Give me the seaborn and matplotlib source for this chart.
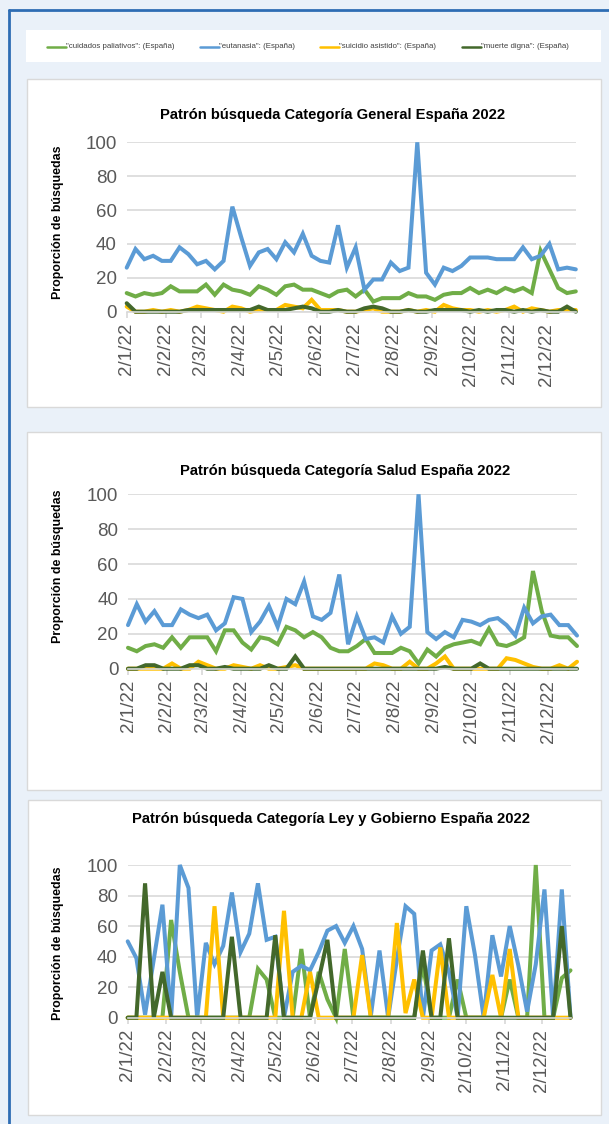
"""Patrón de búsqueda (Google Trends) España 2022 - tres categorías."""

import matplotlib
matplotlib.use("Agg")
import matplotlib.pyplot as plt
from matplotlib.patches import Rectangle
from matplotlib.lines import Line2D
import numpy as np
import pandas as pd
import seaborn as sns

# --- datos -------------------------------------------------------------
fechas = pd.date_range("2022-01-02", periods=52, freq="7D")

series = ['"cuidados paliativos": (España)', '"eutanasia": (España)',
          '"suicidio asistido": (España)', '"muerte digna": (España)']
colores = ["#70ad47", "#5b9bd5", "#ffc000", "#43682b"]

tick_fechas = pd.to_datetime(["2022-01-02", "2022-02-02", "2022-03-02", "2022-04-02",
                              "2022-05-02", "2022-06-02", "2022-07-02", "2022-08-02",
                              "2022-09-02", "2022-10-02", "2022-11-02", "2022-12-02"])
tick_labels = ["2/1/22", "2/2/22", "2/3/22", "2/4/22", "2/5/22", "2/6/22",
               "2/7/22", "2/8/22", "2/9/22", "2/10/22", "2/11/22", "2/12/22"]

# Categoría General
gen_cuidados = [11, 9, 11, 10, 11, 15, 12, 12, 12, 16, 10, 16, 13, 12, 10, 15, 13, 10, 15, 16,
                13, 13, 11, 9, 12, 13, 9, 13, 6, 8, 8, 8, 11, 9, 9, 7, 10, 11, 11, 14,
                11, 13, 11, 14, 12, 14, 11, 36, 25, 14, 11, 12]
gen_eutanasia = [26, 37, 31, 33, 30, 30, 38, 34, 28, 30, 25, 30, 62, 44, 27, 35, 37, 31, 41, 35,
                 46, 33, 30, 29, 51, 26, 38, 13, 19, 19, 29, 24, 26, 100, 23, 16, 26, 24, 27, 32,
                 32, 32, 31, 31, 31, 38, 31, 33, 40, 25, 26, 25]
gen_suicidio = [3, 0, 0, 1, 0, 1, 0, 1, 3, 2, 1, 0, 3, 2, 0, 1, 1, 1, 4, 3,
                2, 7, 1, 1, 1, 0, 0, 1, 2, 0, 0, 0, 1, 0, 1, 0, 4, 2, 1, 1,
                0, 1, 0, 1, 3, 0, 2, 1, 0, 1, 1, 1]
gen_muerte = [5, 0, 0, 0, 0, 0, 0, 1, 1, 1, 1, 1, 1, 1, 1, 3, 1, 1, 1, 2,
              3, 2, 0, 0, 1, 0, 0, 2, 3, 2, 0, 0, 1, 0, 0, 1, 1, 1, 1, 0,
              1, 0, 1, 1, 0, 1, 0, 1, 0, 0, 3, 0]

# Categoría Salud
sal_cuidados = [12, 10, 13, 14, 12, 18, 12, 18, 18, 18, 10, 22, 22, 15, 11, 18, 17, 14, 24, 22,
                18, 21, 18, 12, 10, 10, 13, 17, 9, 9, 9, 12, 10, 3, 11, 7, 12, 14, 15, 16,
                14, 23, 14, 13, 15, 18, 56, 33, 19, 18, 18, 13]
sal_eutanasia = [25, 37, 27, 33, 25, 25, 34, 31, 29, 31, 22, 26, 41, 40, 21, 27, 36, 24, 40, 37,
                 50, 30, 28, 32, 54, 14, 30, 17, 18, 15, 30, 20, 24, 100, 21, 17, 21, 18, 28, 27,
                 25, 28, 29, 25, 19, 35, 26, 30, 31, 25, 25, 19]
sal_suicidio = [0, 0, 0, 0, 0, 3, 0, 0, 4, 2, 0, 0, 2, 1, 0, 2, 0, 0, 1, 2,
                0, 0, 0, 0, 0, 0, 0, 0, 3, 2, 0, 0, 4, 0, 0, 3, 7, 0, 0, 0,
                0, 0, 0, 6, 5, 3, 1, 0, 0, 2, 0, 4]
sal_muerte = [0, 0, 2, 2, 0, 0, 0, 2, 2, 0, 0, 1, 0, 0, 0, 0, 2, 0, 0, 7,
              0, 0, 0, 0, 0, 0, 0, 0, 0, 0, 0, 0, 0, 0, 0, 0, 1, 0, 0, 0,
              3, 0, 0, 0, 0, 0, 0, 0, 0, 0, 0, 0]

# Categoría Ley y Gobierno
ley_cuidados = [0, 0, 0, 0, 0, 64, 30, 0, 0, 0, 0, 0, 0, 0, 0, 32, 25, 0, 0, 0,
                45, 0, 30, 12, 0, 45, 0, 0, 0, 0, 0, 0, 0, 0, 35, 0, 0, 0, 25, 0,
                0, 0, 0, 0, 25, 0, 0, 100, 0, 0, 26, 31]
ley_eutanasia = [50, 39, 2, 38, 74, 0, 100, 85, 0, 49, 35, 47, 82, 43, 55, 88, 51, 53, 0, 30,
                 34, 31, 43, 57, 60, 49, 60, 45, 1, 44, 0, 38, 73, 68, 0, 44, 48, 30, 0, 73,
                 41, 0, 54, 27, 60, 34, 4, 35, 84, 0, 84, 0]
ley_suicidio = [0, 0, 0, 0, 0, 0, 0, 0, 0, 0, 73, 0, 0, 0, 0, 0, 0, 0, 70, 0,
                0, 30, 0, 0, 0, 0, 0, 41, 0, 0, 0, 62, 3, 25, 0, 0, 46, 0, 0, 0,
                0, 0, 28, 0, 45, 0, 0, 0, 0, 0, 0, 0]
ley_muerte = [0, 0, 88, 0, 30, 0, 0, 0, 0, 0, 0, 0, 53, 0, 0, 0, 0, 54, 0, 0,
              0, 0, 25, 51, 0, 0, 0, 0, 0, 0, 0, 0, 0, 0, 44, 0, 0, 52, 0, 0,
              0, 0, 0, 0, 0, 0, 0, 0, 0, 0, 60, 0]

titulos = ["Patrón búsqueda Categoría General España 2022",
           "Patrón búsqueda Categoría Salud España 2022",
           "Patrón búsqueda Categoría Ley y Gobierno España 2022"]
ylabel = "Proporción de búsquedas"

# --- estilo ------------------------------------------------------------
sns.set_theme(style="white")
plt.rcParams["font.family"] = ["Liberation Sans", "DejaVu Sans"]

W, H = 609, 1124
FONDO = "#eaf1f9"
BORDE_AZUL = "#2e6db4"
GRIS_TXT = "#595959"
GRIS_GRID = "#d9d9d9"

fig = plt.figure(figsize=(W / 100, H / 100), dpi=100, facecolor=FONDO)


def fx(x):
    return x / W


def fy(y):
    return 1 - y / H


def caja(x0, y0, x1, y1, edge=None):
    fig.patches.append(Rectangle((fx(x0), fy(y1)), fx(x1) - fx(x0), fy(y0) - fy(y1),
                                 transform=fig.transFigure, facecolor="white",
                                 edgecolor=edge if edge else "none", lw=1, zorder=-5))


# marco azul izquierdo y superior
fig.lines.append(Line2D([fx(9), fx(9)], [fy(10), 0], transform=fig.transFigure,
                        color=BORDE_AZUL, lw=2))
fig.lines.append(Line2D([fx(9), 1], [fy(10), fy(10)], transform=fig.transFigure,
                        color=BORDE_AZUL, lw=2))

# leyenda
caja(26, 30, 601, 62)
ley_x = [47, 200, 320, 462]
for x0, nombre, c in zip(ley_x, series, colores):
    fig.lines.append(Line2D([fx(x0), fx(x0 + 19)], [fy(47), fy(47)],
                            transform=fig.transFigure, color=c, lw=1.8))
    fig.text(fx(x0 + 19), fy(47), nombre, fontsize=5.7, color="#404040",
             va="center", ha="left")

# paneles: caja, ejes, título (x, y) y centro del rótulo del eje y
paneles = [
    dict(box=(27, 79, 601, 407), ax=(126.7, 142.3, 575.8, 311.7), tx=333, ty=115, ly=222,
         datos=(gen_cuidados, gen_eutanasia, gen_suicidio, gen_muerte)),
    dict(box=(27, 432, 601, 790), ax=(128.0, 494.3, 577.0, 668.7), tx=345, ty=471, ly=566,
         datos=(sal_cuidados, sal_eutanasia, sal_suicidio, sal_muerte)),
    dict(box=(28, 800, 601, 1115), ax=(127.7, 865.0, 570.5, 1017.7), tx=331, ty=819, ly=943,
         datos=(ley_cuidados, ley_eutanasia, ley_suicidio, ley_muerte)),
]

for p, titulo in zip(paneles, titulos):
    caja(*p["box"], edge=GRIS_GRID)
    x0, y0, x1, y1 = p["ax"]
    ax = fig.add_axes([fx(x0), fy(y1), fx(x1) - fx(x0), fy(y0) - fy(y1)])
    ax.patch.set_alpha(0)

    df = pd.DataFrame({"fecha": np.tile(fechas, 4),
                       "valor": np.concatenate(p["datos"]),
                       "serie": np.repeat(series, len(fechas))})
    sns.lineplot(data=df, x="fecha", y="valor", hue="serie", hue_order=series,
                 palette=colores, linewidth=2.9, legend=False, ax=ax,
                 solid_joinstyle="miter", clip_on=False)

    ax.set_xlim(fechas[0], fechas[-1])
    ax.set_ylim(0, 100)
    ax.set_yticks([0, 20, 40, 60, 80, 100])
    ax.yaxis.grid(True, color=GRIS_GRID, lw=1.2)
    ax.set_axisbelow(True)
    ax.set_xticks(tick_fechas)
    ax.set_xticklabels(tick_labels, rotation=90)
    ax.tick_params(axis="x", length=4, color=GRIS_GRID, colors=GRIS_TXT,
                   labelsize=13.5, pad=4, bottom=True)
    ax.tick_params(axis="y", length=0, colors=GRIS_TXT, labelsize=13.5, pad=7)
    ax.set_xlabel("")
    ax.set_ylabel("")
    for s in ["top", "right", "left"]:
        ax.spines[s].set_visible(False)
    ax.spines["bottom"].set_color(GRIS_GRID)
    ax.spines["bottom"].set_linewidth(1.2)

    fig.text(fx(p["tx"]), fy(p["ty"]), titulo, fontsize=10.6, fontweight="bold",
             ha="center", va="center", color="black")
    fig.text(fx(58), fy(p["ly"]), ylabel, fontsize=8.9, fontweight="bold",
             rotation=90, ha="center", va="center", color="black")

fig.savefig("out.png", dpi=100, facecolor=FONDO)
